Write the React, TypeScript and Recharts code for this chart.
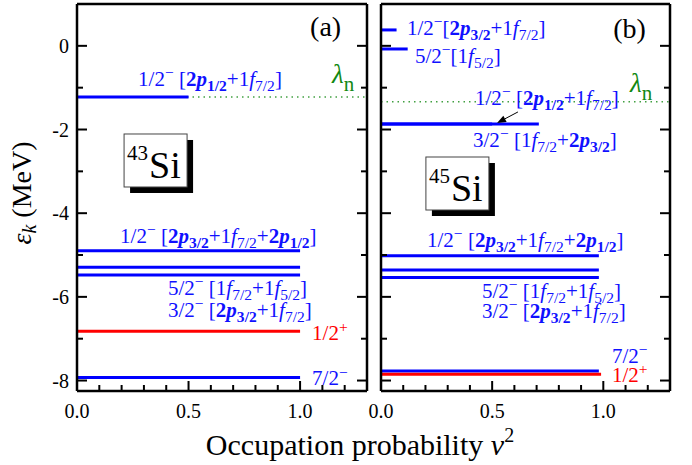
import React from 'react';
import { LineChart, Line, XAxis, YAxis, ReferenceLine, ReferenceDot } from 'recharts';

// ---- data ----
const xTicks = [0, 0.1, 0.2, 0.3, 0.4, 0.5, 0.6, 0.7, 0.8, 0.9, 1.0, 1.1, 1.2];
const xMajor = [0, 0.5, 1.0];
const yTicks = [-8, -7, -6, -5, -4, -3, -2, -1, 0];
const yMajor = [-8, -6, -4, -2, 0];

// 43Si single-particle levels
const si43Energy = [-1.22, -4.9, -5.29, -5.48, -6.82, -7.93];
const si43Occupation = [0.5, 1.0, 1.0, 1.0, 1.0, 1.0];
const si43Parity = ['-', '-', '-', '-', '+', '-'];
const si43LambdaN = -1.22;

// 45Si single-particle levels
const si45Energy = [0.38, -0.075, -1.87, -1.87, -5.02, -5.36, -5.54, -7.77, -7.85];
const si45Occupation = [0.07, 0.12, 0.5, 0.71, 0.98, 0.98, 0.98, 0.98, 0.99];
const si45Parity = ['-', '-', '-', '-', '-', '-', '-', '-', '+'];
const si45LambdaN = -1.335;

const X_DOMAIN: [number, number] = [0, 1.3];
const Y_DOMAIN: [number, number] = [-8.25, 1];

const FONT = '"Liberation Serif", "Times New Roman", serif';
const BLUE = '#0000ff';
const BLUE_TEXT = '#1010ff';
const RED = '#ff0000';
const GREEN = '#118811';

type Part = { t: string; b?: boolean; i?: boolean; sub?: boolean; sup?: boolean };

const jp = (j: string, sign: string): Part[] => [{ t: j }, { t: sign, sup: true }];
const orb = (n: string, l: string, j: string, bold = false): Part[] => [
  { t: n, b: bold },
  { t: l, b: bold, i: true },
  { t: j, b: bold, sub: true },
];
const txt = (t: string): Part => ({ t });

// level labels (annotation anchors in data units)
const si43Labels = [
  { v: 0.274, e: -0.96, parity: '-', parts: [...jp('1/2', '−'), txt(' ['), ...orb('2', 'p', '1/2', true), txt('+'), ...orb('1', 'f', '7/2'), txt(']')] },
  { v: 0.193, e: -4.71, parity: '-', parts: [...jp('1/2', '−'), txt(' ['), ...orb('2', 'p', '3/2', true), txt('+'), ...orb('1', 'f', '7/2'), txt('+'), ...orb('2', 'p', '1/2', true), txt(']')] },
  { v: 0.408, e: -5.955, parity: '-', parts: [...jp('5/2', '−'), txt(' ['), ...orb('1', 'f', '7/2'), txt('+'), ...orb('1', 'f', '5/2'), txt(']')] },
  { v: 0.408, e: -6.48, parity: '-', parts: [...jp('3/2', '−'), txt(' ['), ...orb('2', 'p', '3/2', true), txt('+'), ...orb('1', 'f', '7/2'), txt(']')] },
  { v: 1.054, e: -7.03, parity: '+', parts: jp('1/2', '+') },
  { v: 1.054, e: -8.11, parity: '-', parts: jp('7/2', '−') },
];

const si45Labels = [
  { v: 0.117, e: 0.259, parity: '-', parts: [...jp('1/2', '−'), txt('['), ...orb('2', 'p', '3/2', true), txt('+'), ...orb('1', 'f', '7/2'), txt(']')] },
  { v: 0.153, e: -0.41, parity: '-', parts: [...jp('5/2', '−'), txt('['), ...orb('1', 'f', '5/2'), txt(']')] },
  { v: 0.423, e: -1.414, parity: '-', parts: [...jp('1/2', '−'), txt(' ['), ...orb('2', 'p', '1/2', true), txt('+'), ...orb('1', 'f', '7/2'), txt(']')] },
  { v: 0.414, e: -2.418, parity: '-', parts: [...jp('3/2', '−'), txt(' ['), ...orb('1', 'f', '7/2'), txt('+'), ...orb('2', 'p', '3/2', true), txt(']')] },
  { v: 0.207, e: -4.808, parity: '-', parts: [...jp('1/2', '−'), txt(' ['), ...orb('2', 'p', '3/2', true), txt('+'), ...orb('1', 'f', '7/2'), txt('+'), ...orb('2', 'p', '1/2', true), txt(']')] },
  { v: 0.454, e: -6.027, parity: '-', parts: [...jp('5/2', '−'), txt(' ['), ...orb('1', 'f', '7/2'), txt('+'), ...orb('1', 'f', '5/2'), txt(']')] },
  { v: 0.454, e: -6.505, parity: '-', parts: [...jp('3/2', '−'), txt(' ['), ...orb('2', 'p', '3/2', true), txt('+'), ...orb('1', 'f', '7/2'), txt(']')] },
  { v: 1.039, e: -7.58, parity: '-', parts: jp('7/2', '−') },
  { v: 1.039, e: -8.035, parity: '+', parts: jp('1/2', '+') },
];

const RichText = ({ x, y, parts, size, fill }: { x: number; y: number; parts: Part[]; size: number; fill: string }) => {
  let shift = 0;
  return (
    <text x={x} y={y} fontFamily={FONT} fontSize={size} fill={fill} style={{ whiteSpace: 'pre' }}>
      {parts.map((p, k) => {
        const target = p.sub ? size * 0.22 : p.sup ? -size * 0.36 : 0;
        const dy = target - shift;
        shift = target;
        return (
          <tspan
            key={k}
            dy={dy}
            fontSize={p.sub || p.sup ? size * 0.74 : size}
            fontWeight={p.b ? 'bold' : 'normal'}
            fontStyle={p.i ? 'italic' : 'normal'}
          >
            {p.t}
          </tspan>
        );
      })}
    </text>
  );
};

const isIn = (arr: number[], v: number) => arr.some((a) => Math.abs(a - v) < 1e-6);

const BottomTick = (props: any) => {
  const { x, y, payload, showLabel } = props;
  const major = isIn(xMajor, payload.value);
  return (
    <g>
      <line x1={x} y1={y} x2={x} y2={y - (major ? 10 : 6)} stroke="#000" strokeWidth={2} />
      {major && showLabel && (
        <text x={x} y={y + 27} textAnchor="middle" fontFamily={FONT} fontSize={20} fill="#000">
          {payload.value.toFixed(1)}
        </text>
      )}
    </g>
  );
};

const TopTick = (props: any) => {
  const { x, y, payload } = props;
  const major = isIn(xMajor, payload.value);
  return <line x1={x} y1={y} x2={x} y2={y + (major ? 10 : 6)} stroke="#000" strokeWidth={2} />;
};

const LeftTick = (props: any) => {
  const { x, y, payload, showLabel } = props;
  const major = isIn(yMajor, payload.value);
  return (
    <g>
      <line x1={x} y1={y} x2={x + (major ? 10 : 6)} y2={y} stroke="#000" strokeWidth={2} />
      {major && showLabel && (
        <text x={x - 8} y={y + 7} textAnchor="end" fontFamily={FONT} fontSize={20} fill="#000">
          {payload.value}
        </text>
      )}
    </g>
  );
};

const RightTick = (props: any) => {
  const { x, y, payload } = props;
  const major = isIn(yMajor, payload.value);
  return <line x1={x} y1={y} x2={x - (major ? 10 : 6)} y2={y} stroke="#000" strokeWidth={2} />;
};

const IsotopeBox = ({ cx, cy, mass }: any) => (
  <g>
    <rect x={cx + 6} y={cy + 6} width={63} height={53} fill="#000" />
    <rect x={cx} y={cy} width={63} height={53} fill="#fff" stroke="#444" strokeWidth={1} />
    <text x={cx + 3} y={cy + 26} fontFamily={FONT} fontSize={21} fill="#000">{mass}</text>
    <text x={cx + 25} y={cy + 44} fontFamily={FONT} fontSize={38} fill="#000">Si</text>
  </g>
);

const LambdaLabel = ({ cx, cy }: any) => (
  <text x={cx} y={cy} fontFamily={FONT} fill={GREEN}>
    <tspan fontSize={27} fontStyle="italic">λ</tspan>
    <tspan fontSize={21} dy={8}>n</tspan>
  </text>
);

const Arrow = (props: any) => {
  const { x1, y1, x2, y2 } = props;
  const ang = Math.atan2(y2 - y1, x2 - x1);
  const L = 9;
  const W = 3.5;
  const bx = x2 - L * Math.cos(ang);
  const by = y2 - L * Math.sin(ang);
  const px = -Math.sin(ang) * W;
  const py = Math.cos(ang) * W;
  return (
    <g>
      <line x1={x1} y1={y1} x2={bx} y2={by} stroke="#000" strokeWidth={1} />
      <polygon points={`${x2},${y2} ${bx + px},${by + py} ${bx - px},${by - py}`} fill="#000" />
    </g>
  );
};

type PanelProps = {
  left: number;
  width: number;
  margin: { top: number; right: number; bottom: number; left: number };
  yAxisWidth: number;
  showYLabels: boolean;
  energies: number[];
  occupations: number[];
  parities: string[];
  lambdaN: number;
  labels: { v: number; e: number; parity: string; parts: Part[] }[];
  tag: string;
  tagAt: { v: number; e: number };
  mass: string;
  boxAt: { v: number; e: number };
  lambdaAt: { v: number; e: number };
  arrow?: { from: { v: number; e: number }; to: { v: number; e: number } };
};

const Panel = (p: PanelProps) => (
  <div style={{ position: 'absolute', left: p.left, top: 0 }}>
    <LineChart width={p.width} height={465} margin={p.margin}>
      <XAxis
        xAxisId="b"
        dataKey="v"
        type="number"
        domain={X_DOMAIN}
        allowDataOverflow
        ticks={xTicks}
        interval={0}
        tickSize={0}
        tickMargin={0}
        tickLine={false}
        axisLine={{ stroke: '#000', strokeWidth: 2.5 }}
        tick={(t: any) => <BottomTick {...t} showLabel />}
        height={30}
      />
      <XAxis
        xAxisId="t"
        orientation="top"
        type="number"
        domain={X_DOMAIN}
        allowDataOverflow
        ticks={xTicks}
        interval={0}
        tickSize={0}
        tickMargin={0}
        tickLine={false}
        axisLine={{ stroke: '#000', strokeWidth: 2.5 }}
        tick={(t: any) => <TopTick {...t} />}
        height={2}
      />
      <YAxis
        yAxisId="l"
        type="number"
        domain={Y_DOMAIN}
        allowDataOverflow
        ticks={yTicks}
        interval={0}
        tickSize={0}
        tickMargin={0}
        tickLine={false}
        axisLine={{ stroke: '#000', strokeWidth: 2.5 }}
        tick={(t: any) => <LeftTick {...t} showLabel={p.showYLabels} />}
        width={p.yAxisWidth}
      />
      <YAxis
        yAxisId="r"
        orientation="right"
        type="number"
        domain={Y_DOMAIN}
        allowDataOverflow
        ticks={yTicks}
        interval={0}
        tickSize={0}
        tickMargin={0}
        tickLine={false}
        axisLine={{ stroke: '#000', strokeWidth: 2.5 }}
        tick={(t: any) => <RightTick {...t} />}
        width={2}
      />
      <ReferenceLine
        xAxisId="b"
        yAxisId="l"
        y={p.lambdaN}
        stroke={GREEN}
        strokeWidth={1.5}
        strokeDasharray="1.5 4"
        strokeOpacity={0.8}
      />
      {p.energies.map((e, i) => (
        <Line
          key={i}
          xAxisId="b"
          yAxisId="l"
          data={[
            { v: 0, e },
            { v: p.occupations[i], e },
          ]}
          dataKey="e"
          stroke={p.parities[i] === '+' ? RED : BLUE}
          strokeWidth={3}
          dot={false}
          activeDot={false}
          isAnimationActive={false}
        />
      ))}
      {p.labels.map((lb, i) => (
        <ReferenceDot
          key={`lb${i}`}
          xAxisId="b"
          yAxisId="l"
          x={lb.v}
          y={lb.e}
          r={1}
          shape={(s: any) => (
            <RichText x={s.cx} y={s.cy} parts={lb.parts} size={21} fill={lb.parity === '+' ? RED : BLUE_TEXT} />
          )}
        />
      ))}
      <ReferenceDot
        xAxisId="b"
        yAxisId="l"
        x={p.tagAt.v}
        y={p.tagAt.e}
        r={1}
        shape={(s: any) => (
          <text x={s.cx} y={s.cy} fontFamily={FONT} fontSize={28} fill="#000">
            {p.tag}
          </text>
        )}
      />
      <ReferenceDot
        xAxisId="b"
        yAxisId="l"
        x={p.boxAt.v}
        y={p.boxAt.e}
        r={1}
        shape={(s: any) => <IsotopeBox cx={s.cx} cy={s.cy} mass={p.mass} />}
      />
      <ReferenceDot
        xAxisId="b"
        yAxisId="l"
        x={p.lambdaAt.v}
        y={p.lambdaAt.e}
        r={1}
        shape={(s: any) => <LambdaLabel cx={s.cx} cy={s.cy} />}
      />
      {p.arrow && (
        <ReferenceLine
          xAxisId="b"
          yAxisId="l"
          segment={[
            { x: p.arrow.from.v, y: p.arrow.from.e },
            { x: p.arrow.to.v, y: p.arrow.to.e },
          ]}
          shape={(s: any) => <Arrow {...s} />}
        />
      )}
    </LineChart>
  </div>
);

export default function App() {
  return (
    <div style={{ position: 'absolute', left: 0, top: 0, width: 692, height: 465, background: '#fff' }}>
      <Panel
        left={0}
        width={372}
        margin={{ top: 2, right: 3, bottom: 44, left: 37 }}
        yAxisWidth={40}
        showYLabels
        energies={si43Energy}
        occupations={si43Occupation}
        parities={si43Parity}
        lambdaN={si43LambdaN}
        labels={si43Labels}
        tag="(a)"
        tagAt={{ v: 1.045, e: 0.24 }}
        mass="43"
        boxAt={{ v: 0.211, e: -2.107 }}
        lambdaAt={{ v: 1.143, e: -0.89 }}
      />
      <Panel
        left={352}
        width={340}
        margin={{ top: 2, right: 20, bottom: 44, left: 27 }}
        yAxisWidth={2}
        showYLabels={false}
        energies={si45Energy}
        occupations={si45Occupation}
        parities={si45Parity}
        lambdaN={si45LambdaN}
        labels={si45Labels}
        tag="(b)"
        tagAt={{ v: 1.045, e: 0.19 }}
        mass="45"
        boxAt={{ v: 0.202, e: -2.657 }}
        lambdaAt={{ v: 1.12, e: -1.1 }}
        arrow={{ from: { v: 0.616, e: -1.58 }, to: { v: 0.522, e: -1.844 } }}
      />
      <svg width={692} height={465} style={{ position: 'absolute', left: 0, top: 0, pointerEvents: 'none' }}>
        <text
          x={0}
          y={0}
          transform="translate(31 193) rotate(-90)"
          textAnchor="middle"
          fontFamily={FONT}
          fontSize={28}
          fill="#000"
        >
          <tspan fontStyle="italic">ε</tspan>
          <tspan fontStyle="italic" fontSize={20} dy={5}>k</tspan>
          <tspan dy={-5}> (MeV)</tspan>
        </text>
        <text x={360} y={455} textAnchor="middle" fontFamily={FONT} fontSize={30} fill="#000">
          Occupation probability <tspan fontStyle="italic">v</tspan>
          <tspan fontSize={20} dy={-13}>2</tspan>
        </text>
      </svg>
    </div>
  );
}
